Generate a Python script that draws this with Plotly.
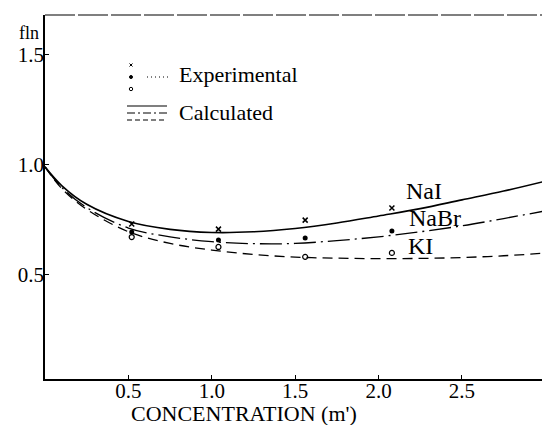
import plotly.graph_objects as go

# ---------------- data ----------------
conc_exp = [0.52, 1.04, 1.56, 2.08]
nai_exp = [0.730, 0.707, 0.748, 0.803]
nabr_exp = [0.694, 0.658, 0.667, 0.698]
ki_exp = [0.671, 0.626, 0.581, 0.599]

conc_calc = [0.0, 0.1, 0.25, 0.5, 0.75, 1.0, 1.25, 1.5, 1.75, 2.0, 2.25, 2.5, 2.75, 3.0]
nai_calc = [0.99, 0.905, 0.82, 0.742, 0.706, 0.692, 0.695, 0.71, 0.735, 0.767, 0.80, 0.84, 0.88, 0.925]
nabr_calc = [0.99, 0.897, 0.805, 0.712, 0.672, 0.650, 0.641, 0.642, 0.655, 0.672, 0.695, 0.722, 0.755, 0.79]
ki_calc = [0.99, 0.892, 0.797, 0.695, 0.642, 0.612, 0.592, 0.580, 0.575, 0.573, 0.574, 0.578, 0.586, 0.598]

x_ticks = [0.5, 1.0, 1.5, 2.0, 2.5]
x_ticktext = ["0.5", "1.0", "1.5", "2.0", "2.5"]
y_ticks = [0.5, 1.0, 1.5]
y_ticktext = ["0.5", "1.0", "1.5"]

labels = ["NaI", "NaBr", "KI"]
label_x = [2.27, 2.34, 2.25]
label_y = [0.88, 0.757, 0.63]

FONT = "Liberation Serif"
W, H = 542, 425
L, R, T, B = 45, 0, 15, 46
PW, PH = W - L - R, H - T - B


def px(x):
    return (x - L) / PW


def py(y):
    return (H - B - y) / PH


fig = go.Figure()

line_styles = [
    dict(color="black", width=1.6, dash="solid"),
    dict(color="black", width=1.3, dash="22px,5px,2px,5px"),
    dict(color="black", width=1.3, dash="10px,6px"),
]
for ys, ls in zip([nai_calc, nabr_calc, ki_calc], line_styles):
    fig.add_trace(go.Scatter(x=conc_calc, y=ys, mode="lines", line=ls,
                             line_shape="spline", showlegend=False, hoverinfo="skip"))

marker_styles = [
    dict(symbol="x-thin-open", size=5, color="black", line=dict(width=1.5, color="black")),
    dict(symbol="circle", size=5, color="black"),
    dict(symbol="circle-open", size=5, color="black", line=dict(width=1.2, color="black")),
]
for ys, ms in zip([nai_exp, nabr_exp, ki_exp], marker_styles):
    fig.add_trace(go.Scatter(x=conc_exp, y=ys, mode="markers", marker=ms,
                             showlegend=False, hoverinfo="skip"))

for t, xx, yy in zip(labels, label_x, label_y):
    fig.add_annotation(x=xx, y=yy, text=t, showarrow=False,
                       font=dict(family=FONT, size=24, color="black"))

shapes = []
# top border
shapes.append(dict(type="line", xref="paper", yref="paper", x0=0, x1=1, y0=1, y1=1,
                   line=dict(color="black", width=1.2, dash="30px,3px")))
# legend: experimental symbols
shapes.append(dict(type="line", xref="paper", yref="paper", x0=px(129.5), x1=px(132.5),
                   y0=py(63.5), y1=py(66.5), line=dict(color="black", width=1)))
shapes.append(dict(type="line", xref="paper", yref="paper", x0=px(129.5), x1=px(132.5),
                   y0=py(66.5), y1=py(63.5), line=dict(color="black", width=1)))
shapes.append(dict(type="circle", xref="paper", yref="paper", x0=px(129.5), x1=px(132.5),
                   y0=py(75.5), y1=py(78.5), fillcolor="black", line=dict(color="black", width=1)))
shapes.append(dict(type="circle", xref="paper", yref="paper", x0=px(129.3), x1=px(132.7),
                   y0=py(87.3), y1=py(90.7), line=dict(color="black", width=1)))
shapes.append(dict(type="line", xref="paper", yref="paper", x0=px(147), x1=px(168),
                   y0=py(77), y1=py(77), line=dict(color="black", width=1, dash="1px,3px")))
# legend: calculated lines
legend_dash = ["solid", "8px,3px,2px,3px", "5px,3px"]
for yy, dd in zip([106, 113, 120], legend_dash):
    shapes.append(dict(type="line", xref="paper", yref="paper", x0=px(127), x1=px(167),
                       y0=py(yy), y1=py(yy), line=dict(color="black", width=1.1, dash=dd)))
fig.update_layout(shapes=shapes)

fig.add_annotation(xref="paper", yref="paper", x=px(177), y=py(75), xanchor="left",
                   yanchor="middle", text="Experimental", showarrow=False,
                   font=dict(family=FONT, size=22, color="black"))
fig.add_annotation(xref="paper", yref="paper", x=px(177), y=py(112), xanchor="left",
                   yanchor="middle", text="Calculated", showarrow=False,
                   font=dict(family=FONT, size=22, color="black"))
# axis titles
fig.add_annotation(xref="paper", yref="paper", x=px(244), y=py(413), xanchor="center",
                   yanchor="middle", text="CONCENTRATION (m')", showarrow=False,
                   font=dict(family=FONT, size=22, color="black"))
fig.add_annotation(xref="paper", yref="paper", x=px(29), y=py(33), xanchor="center",
                   yanchor="middle", text="fln", showarrow=False,
                   font=dict(family=FONT, size=18, color="black"))

fig.update_xaxes(range=[0, 2.98], tickvals=x_ticks, ticktext=x_ticktext,
                 ticks="inside", ticklen=4, tickcolor="black", showline=True,
                 linecolor="black", linewidth=1.6, showgrid=False, zeroline=False,
                 ticklabelstandoff=-8,
                 tickfont=dict(family=FONT, size=21, color="black"))
fig.update_yaxes(range=[0.026, 1.68], tickvals=y_ticks, ticktext=y_ticktext,
                 ticks="inside", ticklen=4, tickcolor="black", showline=True,
                 linecolor="black", linewidth=1.6, showgrid=False, zeroline=False,
                 ticklabelstandoff=-5,
                 tickfont=dict(family=FONT, size=21, color="black"))

fig.update_layout(width=W, height=H, margin=dict(l=L, r=R, t=T, b=B),
                  plot_bgcolor="white", paper_bgcolor="white", showlegend=False)

fig.write_html("out.html", config={"displayModeBar": False},
               post_script="document.body.style.margin='0';document.body.style.padding='0';")
